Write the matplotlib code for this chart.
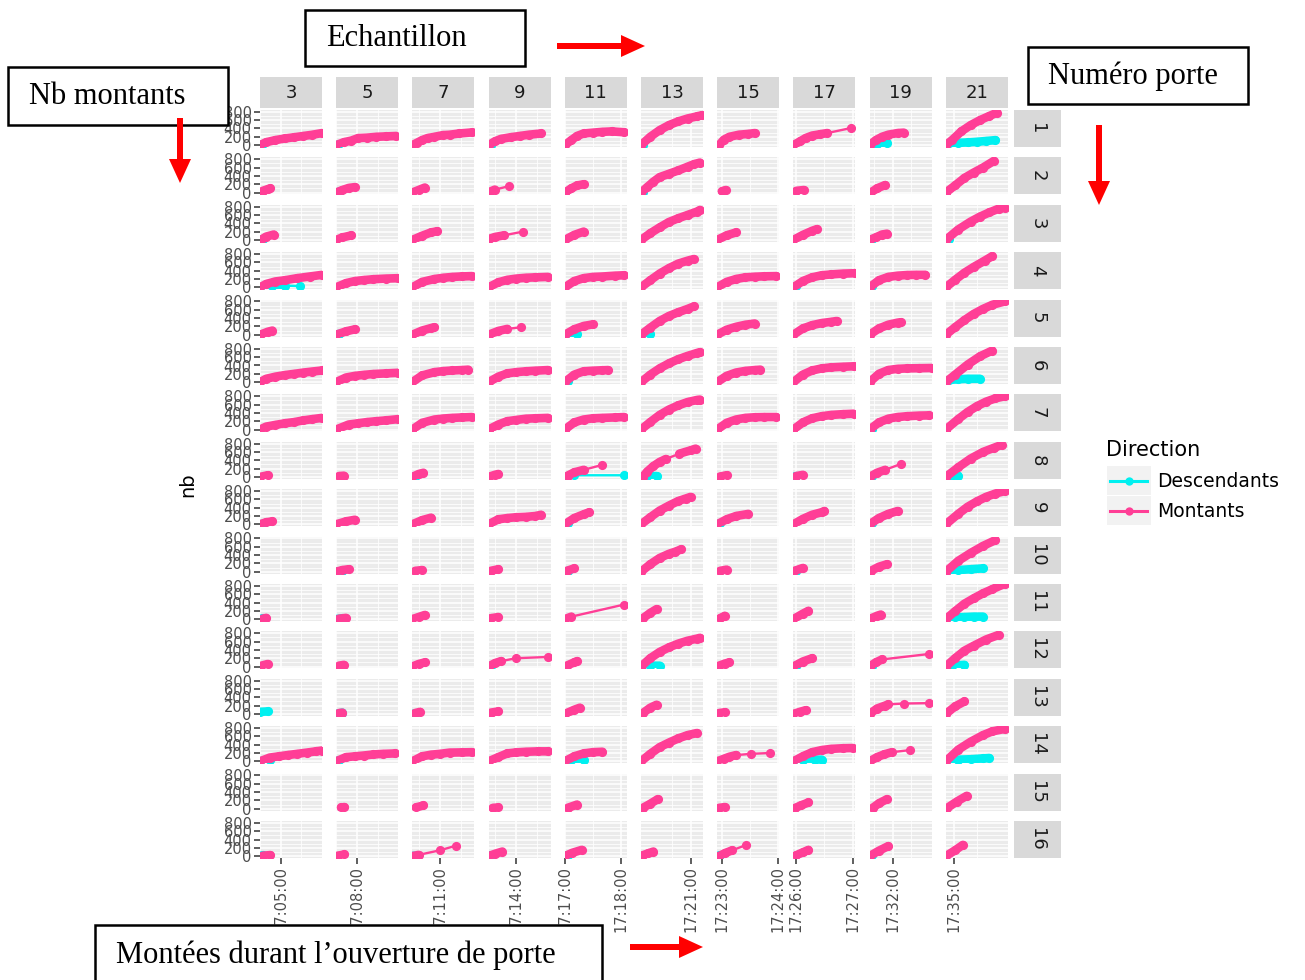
import matplotlib
matplotlib.use("Agg")
import matplotlib.pyplot as plt
from matplotlib.patches import Rectangle, FancyArrow
from matplotlib.lines import Line2D

# ---------------- data ----------------
ECHANTILLONS = [3, 5, 7, 9, 11, 13, 15, 17, 19, 21]
PORTES = list(range(1, 17))
SERIES = ["Descendants", "Montants"]
SERIES_COLORS = ["#00F0F0", "#FF3E96"]

# time window of each sample (column): start time, length in seconds, labelled breaks
COL_START = ["17:04:30", "17:07:30", "17:10:20", "17:13:20", "17:17:00",
             "17:19:40", "17:22:55", "17:25:57", "17:31:23", "17:34:50"]
COL_SPAN = [90, 90, 90, 90, 66, 100, 66, 66, 100, 80]
COL_TICKS = [["17:05:00"], ["17:08:00"], ["17:11:00"], ["17:14:00"],
             ["17:17:00", "17:18:00"], ["17:21:00"], ["17:23:00", "17:24:00"],
             ["17:26:00", "17:27:00"], ["17:32:00"], ["17:35:00"]]
Y_TICKS = [0, 200, 400, 600, 800]

# (seconds since column start, cumulative count) per door 1..16
MONT_03 = [
    [(0, 0), (9, 70), (22, 120), (36, 160), (50, 190), (63, 220), (76, 250), (90, 290)],
    [(0, 0), (4, 40), (11, 80), (15, 100)],
    [(2, 10), (9, 80), (20, 130)],
    [(0, 0), (9, 80), (22, 140), (36, 170), (54, 220), (72, 260), (90, 300)],
    [(2, 10), (11, 70), (18, 100)],
    [(0, 0), (9, 80), (22, 130), (36, 170), (50, 200), (63, 230), (76, 255), (90, 280)],
    [(0, 0), (9, 70), (22, 110), (36, 150), (50, 180), (63, 220), (76, 250), (90, 280)],
    [(0, 0), (11, 40)],
    [(0, 0), (9, 50), (18, 70)],
    [],
    [(4, 10), (9, 30)],
    [(2, 20), (11, 60)],
    [],
    [(0, 0), (14, 90), (27, 120), (40, 150), (54, 180), (68, 210), (81, 240), (90, 260)],
    [],
    [(4, 10), (15, 25)],
]
DESC_03 = [[(0, 0), (3, 10)], [], [(0, 0), (4, 20)], [(0, 0), (18, 30), (36, 40), (58, 30)],
           [], [], [], [], [(0, 0), (4, 10)], [], [(0, 0), (4, 20)], [],
           [(0, 50), (11, 60)], [(0, 0), (14, 40)], [], [(0, 0), (4, 20)]]

MONT_05 = [
    [(0, 0), (11, 70), (22, 110), (32, 170), (45, 180), (58, 200), (72, 210), (87, 220)],
    [(0, 0), (9, 60), (18, 110), (27, 130)],
    [(0, 0), (9, 60), (22, 110)],
    [(0, 0), (14, 100), (27, 150), (40, 175), (54, 195), (72, 210), (90, 220)],
    [(0, 0), (14, 80), (27, 130)],
    [(0, 0), (14, 110), (27, 150), (40, 175), (54, 195), (72, 210), (90, 225)],
    [(0, 0), (18, 120), (32, 150), (45, 180), (58, 200), (72, 220), (90, 250)],
    [(4, 20), (11, 30)],
    [(0, 0), (14, 70), (27, 110)],
    [(0, 0), (9, 40), (18, 60)],
    [(4, 10), (14, 30)],
    [(4, 20), (11, 40)],
    [(4, 20), (9, 30)],
    [(0, 0), (14, 100), (27, 120), (40, 140), (54, 165), (68, 180), (86, 190)],
    [(7, 30), (12, 40)],
    [(2, 10), (12, 40)],
]
DESC_05 = [[(0, 0), (3, 10)], [(0, 0), (4, 20)], [], [], [(0, 0), (4, 20)], [], [], [], [],
           [(0, 0), (9, 20)], [(0, 0), (9, 20)], [], [(0, 0), (9, 30)], [(0, 0), (4, 20)], [], []]

MONT_07 = [
    [(0, 0), (7, 60), (14, 120), (22, 170), (32, 200), (44, 240), (54, 250), (68, 280), (86, 305)],
    [(0, 0), (9, 60), (18, 120)],
    [(0, 0), (14, 100), (27, 180), (36, 210)],
    [(0, 0), (14, 130), (32, 200), (45, 230), (58, 250), (72, 262), (86, 270)],
    [(0, 0), (14, 100), (27, 160), (32, 180)],
    [(0, 0), (14, 160), (32, 240), (45, 265), (58, 280), (72, 290), (81, 300)],
    [(0, 0), (14, 160), (32, 240), (45, 265), (58, 280), (72, 290), (86, 300)],
    [(0, 0), (9, 70), (16, 100)],
    [(0, 0), (14, 100), (27, 160)],
    [(4, 20), (14, 40)],
    [(0, 0), (9, 50), (18, 100)],
    [(0, 0), (9, 60), (18, 100)],
    [(4, 20), (11, 50)],
    [(0, 0), (14, 120), (27, 160), (40, 180), (54, 210), (72, 215), (86, 220)],
    [(5, 30), (16, 80)],
    [(0, 0), (9, 30), (40, 140), (63, 250)],
]
DESC_07 = [[], [], [], [], [], [], [], [(0, 0), (4, 10)], [], [], [], [],
           [(0, 0), (4, 10)], [], [], [(0, 0), (3, 10)]]

MONT_09 = [
    [(0, 0), (9, 90), (18, 150), (32, 190), (45, 220), (58, 250), (76, 280)],
    [(2, 20), (9, 70), (29, 150)],
    [(0, 20), (9, 70), (22, 110), (50, 200)],
    [(0, 0), (14, 120), (27, 180), (40, 210), (54, 230), (68, 240), (86, 250)],
    [(0, 0), (14, 90), (27, 140), (47, 180)],
    [(0, 0), (14, 130), (27, 210), (40, 240), (54, 260), (68, 275), (86, 290)],
    [(0, 0), (14, 120), (27, 200), (40, 230), (54, 260), (68, 270), (86, 280)],
    [(0, 0), (9, 50), (14, 70)],
    [(0, 0), (14, 120), (27, 150), (40, 170), (54, 180), (68, 200), (76, 230)],
    [(3, 20), (14, 60)],
    [(3, 20), (14, 50)],
    [(0, 0), (9, 80), (18, 130), (40, 200), (86, 230)],
    [(3, 30), (14, 60)],
    [(0, 0), (14, 100), (27, 190), (40, 215), (54, 230), (72, 240), (86, 240)],
    [(6, 20), (14, 30)],
    [(0, 0), (10, 60), (20, 110)],
]
DESC_09 = [[(0, 0), (3, 10)], [], [], [], [], [], [], [], [], [], [],
           [(0, 0), (4, 20)], [], [], [], [(0, 0), (4, 20)]]

MONT_11 = [
    [(0, 0), (7, 120), (13, 220), (20, 280), (30, 300), (40, 320), (50, 330), (63, 310)],
    [(0, 0), (7, 100), (13, 170), (20, 200)],
    [(0, 0), (10, 120), (20, 200)],
    [(0, 0), (10, 150), (20, 220), (30, 250), (40, 260), (53, 280), (63, 290)],
    [(0, 0), (10, 130), (20, 210), (30, 250)],
    [(0, 0), (10, 180), (20, 260), (30, 275), (40, 285), (46, 290)],
    [(0, 0), (10, 170), (20, 240), (30, 270), (40, 280), (53, 290), (63, 300)],
    [(3, 30), (10, 110), (20, 170), (40, 290)],
    [(0, 0), (10, 150), (20, 240), (26, 290)],
    [(2, 20), (10, 80)],
    [(0, 0), (7, 60), (63, 350)],
    [(2, 20), (10, 100), (13, 130)],
    [(0, 0), (10, 100), (16, 150)],
    [(0, 0), (10, 120), (20, 190), (30, 220), (40, 230)],
    [(3, 20), (13, 100)],
    [(0, 0), (8, 80), (18, 150)],
]
DESC_11 = [[], [], [], [], [(0, 0), (13, 20)], [(0, 0), (3, 20)], [],
           [(0, 0), (10, 40), (63, 40)], [(0, 0), (3, 20)], [(0, 0), (3, 20)], [], [], [],
           [(0, 0), (7, 30), (20, 30)], [], [(0, 0), (3, 20)]]

MONT_13 = [
    [(0, 0), (15, 200), (30, 360), (45, 480), (60, 570), (75, 640), (90, 690), (98, 720)],
    [(0, 0), (10, 130), (20, 260), (30, 370), (45, 450), (60, 530), (75, 620), (85, 680), (95, 720)],
    [(0, 0), (15, 160), (30, 300), (45, 430), (60, 520), (75, 600), (90, 680), (95, 720)],
    [(0, 0), (15, 170), (30, 330), (45, 460), (60, 570), (75, 640), (85, 680)],
    [(0, 0), (15, 170), (30, 330), (45, 450), (60, 540), (75, 620), (85, 680)],
    [(0, 0), (15, 180), (30, 330), (45, 450), (60, 550), (75, 630), (90, 700), (95, 720)],
    [(0, 0), (15, 180), (30, 350), (45, 480), (60, 580), (75, 660), (90, 710), (95, 720)],
    [(3, 0), (10, 130), (20, 260), (30, 360), (40, 430), (62, 560), (80, 640), (88, 680)],
    [(0, 0), (15, 170), (30, 330), (45, 450), (60, 560), (72, 620), (80, 660)],
    [(0, 0), (15, 180), (30, 330), (45, 430), (55, 480), (65, 540)],
    [(3, 20), (15, 150), (25, 240)],
    [(0, 0), (15, 200), (30, 350), (45, 460), (60, 550), (75, 620), (90, 670), (95, 690)],
    [(3, 20), (15, 150), (25, 220)],
    [(0, 0), (15, 180), (30, 340), (45, 450), (60, 550), (75, 630), (90, 680)],
    [(3, 20), (15, 120), (27, 230)],
    [(3, 20), (12, 70), (20, 110)],
]
DESC_13 = [[(0, 0), (3, 10)], [(0, 0), (3, 10)], [], [], [(0, 0), (15, 20)], [], [],
           [(0, 0), (10, 20), (25, 20)], [], [], [], [(0, 0), (15, 20), (30, 20)],
           [], [], [], []]

MONT_15 = [
    [(2, 0), (7, 130), (13, 200), (23, 250), (33, 270), (40, 290)],
    [(5, 30), (9, 60)],
    [(0, 0), (10, 110), (20, 180)],
    [(0, 0), (10, 130), (20, 200), (30, 240), (40, 255), (50, 265), (63, 270)],
    [(0, 0), (10, 120), (20, 190), (30, 240), (40, 270)],
    [(0, 0), (10, 150), (20, 230), (30, 270), (40, 290), (46, 300)],
    [(0, 0), (10, 160), (20, 240), (30, 280), (40, 295), (50, 300), (63, 300)],
    [(3, 10), (10, 40)],
    [(0, 0), (10, 120), (20, 200), (33, 250)],
    [(3, 20), (10, 50)],
    [(3, 20), (8, 80)],
    [(2, 20), (8, 70), (13, 100)],
    [(2, 20), (8, 40)],
    [(0, 0), (7, 60), (13, 110), (20, 150), (36, 180), (56, 200)],
    [(2, 20), (8, 40)],
    [(2, 0), (8, 70), (16, 140), (31, 270)],
]
DESC_15 = [[], [], [], [], [], [], [], [], [(0, 0), (3, 20)], [], [], [], [], [], [],
           [(0, 0), (3, 20)]]

MONT_17 = [
    [(0, 0), (7, 90), (13, 170), (20, 230), (28, 260), (36, 290), (61, 410)],
    [(3, 40), (11, 60)],
    [(0, 0), (10, 120), (20, 220), (25, 260)],
    [(0, 0), (10, 150), (20, 240), (30, 290), (40, 310), (53, 330), (66, 340)],
    [(0, 0), (10, 150), (20, 230), (30, 280), (40, 310), (46, 330)],
    [(0, 0), (10, 180), (20, 280), (30, 330), (40, 355), (53, 370), (64, 380)],
    [(0, 0), (10, 170), (20, 270), (30, 320), (40, 350), (53, 370), (64, 380)],
    [(3, 20), (10, 50)],
    [(0, 0), (10, 130), (20, 230), (30, 290), (33, 320)],
    [(1, 20), (10, 90)],
    [(0, 0), (10, 130), (16, 200)],
    [(0, 0), (10, 120), (20, 200)],
    [(0, 0), (7, 50), (13, 90)],
    [(0, 0), (10, 120), (20, 220), (30, 270), (40, 300), (53, 315), (63, 320)],
    [(2, 20), (8, 80), (16, 150)],
    [(3, 20), (10, 90), (16, 150)],
]
DESC_17 = [[], [], [], [(0, 0), (3, 20)], [], [], [], [(0, 0), (3, 20)], [],
           [(0, 0), (3, 20)], [], [(0, 0), (3, 20)], [],
           [(0, 0), (10, 40), (23, 40), (30, 40)], [], []]

MONT_19 = [
    [(0, 0), (10, 120), (20, 200), (30, 250), (45, 290), (55, 300)],
    [(3, 10), (12, 100), (25, 180)],
    [(0, 0), (10, 60), (20, 130), (28, 150)],
    [(0, 0), (15, 170), (30, 250), (45, 280), (60, 295), (75, 300), (90, 300)],
    [(0, 0), (15, 150), (30, 240), (45, 290), (50, 300)],
    [(0, 0), (15, 200), (30, 290), (45, 320), (60, 330), (80, 335), (100, 340)],
    [(0, 0), (15, 170), (30, 260), (45, 300), (60, 320), (80, 335), (95, 340)],
    [(0, 0), (12, 100), (25, 170), (50, 310)],
    [(0, 0), (15, 150), (30, 250), (45, 320)],
    [(2, 20), (15, 120), (28, 180)],
    [(3, 20), (12, 80), (18, 110)],
    [(0, 0), (10, 100), (20, 170), (95, 300)],
    [(0, 0), (12, 130), (25, 200), (30, 230), (55, 250), (95, 260)],
    [(0, 0), (12, 100), (24, 170), (36, 220), (65, 270)],
    [(5, 20), (15, 130), (28, 230)],
    [(0, 0), (15, 130), (30, 240)],
]
DESC_19 = [[(0, 0), (12, 20), (28, 60)], [], [(0, 0), (4, 20)], [(0, 0), (4, 20)], [], [],
           [(0, 0), (4, 20)], [(0, 0), (4, 20)], [(0, 0), (4, 20)], [], [],
           [(0, 0), (4, 20)], [], [], [], [(0, 0), (4, 20)]]

MONT_21 = [
    [(0, 0), (8, 120), (20, 330), (32, 480), (44, 600), (56, 700), (66, 780)],
    [(0, 0), (12, 170), (24, 350), (36, 480), (48, 600), (62, 760)],
    [(0, 0), (16, 250), (32, 440), (44, 560), (56, 660), (68, 750), (76, 780)],
    [(0, 0), (12, 180), (24, 350), (36, 490), (50, 640), (60, 750)],
    [(0, 0), (12, 180), (24, 350), (36, 500), (48, 620), (60, 720), (76, 800)],
    [(0, 0), (12, 180), (28, 420), (44, 620), (60, 760)],
    [(0, 0), (16, 250), (28, 420), (40, 560), (52, 670), (64, 750), (76, 800)],
    [(0, 0), (16, 230), (32, 440), (48, 600), (62, 700), (72, 770)],
    [(0, 0), (16, 250), (28, 420), (40, 550), (52, 660), (64, 740), (76, 800)],
    [(0, 0), (16, 260), (32, 450), (48, 620), (64, 760)],
    [(0, 0), (12, 190), (24, 370), (36, 500), (48, 620), (60, 720), (76, 850)],
    [(0, 0), (12, 200), (24, 380), (36, 500), (52, 650), (68, 760)],
    [(0, 0), (12, 180), (24, 300)],
    [(0, 0), (16, 280), (32, 470), (48, 630), (60, 720), (76, 780)],
    [(2, 20), (14, 170), (27, 310)],
    [(0, 0), (12, 140), (22, 270)],
]
DESC_21 = [[(0, 0), (4, 40), (16, 55), (28, 65), (40, 80), (52, 100), (64, 120)], [],
           [(0, 0), (4, 20)], [], [], [(0, 0), (4, 50), (16, 70), (28, 80), (44, 80)], [],
           [(0, 0), (8, 20), (16, 30)], [], [(0, 0), (16, 40), (32, 60), (48, 80)],
           [(0, 0), (12, 40), (24, 50), (36, 60), (48, 60)], [(0, 0), (8, 20), (24, 40)],
           [], [(0, 0), (16, 40), (32, 50), (48, 70), (56, 80)], [], []]

MONTANTS = [MONT_03, MONT_05, MONT_07, MONT_09, MONT_11, MONT_13, MONT_15, MONT_17, MONT_19, MONT_21]
DESCENDANTS = [DESC_03, DESC_05, DESC_07, DESC_09, DESC_11, DESC_13, DESC_15, DESC_17, DESC_19, DESC_21]

# ---------------- figure ----------------
W, H = 1305, 980
fig = plt.figure(figsize=(W / 100, H / 100), dpi=100)
plt.rcParams['font.family'] = ['DejaVu Sans']


def box(x, y, w, h):
    return [x / W, 1 - (y + h) / H, w / W, h / H]


def hms(s):
    h, m, sec = map(int, s.split(":"))
    return h * 3600 + m * 60 + sec


PANEL_BG = "#EBEBEB"
STRIP_BG = "#D9D9D9"
TICK_COL = "#4D4D4D"
LEFT0, PITCH_X, PW = 260, 76.2, 62
TOP0, PITCH_Y, PH = 110, 47.4, 37
YLIM = (-45, 845)


def draw_series(ax, pts, color, thr, z):
    if not pts:
        return
    xs = [p[0] for p in pts]
    ys = [p[1] for p in pts]
    ax.plot(xs, ys, color=color, lw=1.7, zorder=z, solid_capstyle="round")
    # dense runs (closely spaced observations) appear as a thick band
    run = [0]
    for i in range(1, len(xs)):
        if xs[i] - xs[i - 1] <= thr:
            run.append(i)
        else:
            if len(run) > 1:
                ax.plot([xs[j] for j in run], [ys[j] for j in run], color=color, lw=6.2,
                        solid_capstyle="round", solid_joinstyle="round", zorder=z)
            run = [i]
    if len(run) > 1:
        ax.plot([xs[j] for j in run], [ys[j] for j in run], color=color, lw=6.2,
                solid_capstyle="round", solid_joinstyle="round", zorder=z)
    ax.plot(xs, ys, "o", color=color, ms=6.6, mew=0, zorder=z + 0.5)


for c, ech in enumerate(ECHANTILLONS):
    left = LEFT0 + PITCH_X * c
    span = COL_SPAN[c]
    t0 = hms(COL_START[c])
    majors = [hms(t) - t0 for t in COL_TICKS[c]]
    minors = sorted({m + d for m in majors for d in (-30, 30) if 0 <= m + d <= span})
    thr = 0.2 * span
    # top strip
    sax = fig.add_axes(box(left, 77, PW, 31))
    sax.set_facecolor(STRIP_BG)
    sax.set_xticks([]); sax.set_yticks([])
    for s in sax.spines.values():
        s.set_visible(False)
    sax.text(0.5, 0.5, str(ech), ha="center", va="center", fontsize=13, color="#1A1A1A",
             transform=sax.transAxes)
    for r, porte in enumerate(PORTES):
        top = TOP0 + PITCH_Y * r
        ax = fig.add_axes(box(left, top, PW, PH))
        ax.set_facecolor(PANEL_BG)
        for s in ax.spines.values():
            s.set_visible(False)
        ax.set_xlim(0, span)
        ax.set_ylim(*YLIM)
        ax.set_yticks(Y_TICKS)
        ax.set_yticks([100, 300, 500, 700], minor=True)
        ax.set_xticks(majors)
        ax.set_xticks(minors, minor=True)
        ax.grid(which="major", color="white", lw=1.1, zorder=0)
        ax.grid(which="minor", color="white", lw=0.55, zorder=0)
        ax.set_axisbelow(True)
        ax.tick_params(which="minor", length=0)
        ax.tick_params(which="major", length=4, width=1.1, color="#333333",
                       labelsize=10.5, labelcolor=TICK_COL, pad=2)
        if c == 0:
            ax.set_yticklabels([str(v) for v in Y_TICKS])
        else:
            ax.tick_params(axis="y", which="major", length=0, labelleft=False)
        if r == len(PORTES) - 1:
            ax.set_xticklabels(COL_TICKS[c], rotation=90)
        else:
            ax.tick_params(axis="x", which="major", length=0, labelbottom=False)
        draw_series(ax, DESCENDANTS[c][r], SERIES_COLORS[0], thr, 3)
        draw_series(ax, MONTANTS[c][r], SERIES_COLORS[1], thr, 5)
        if c == len(ECHANTILLONS) - 1:
            rax = fig.add_axes(box(1014, top, 47, PH))
            rax.set_facecolor(STRIP_BG)
            rax.set_xticks([]); rax.set_yticks([])
            for s in rax.spines.values():
                s.set_visible(False)
            rax.text(0.5, 0.5, str(porte), ha="center", va="center", rotation=-90,
                     fontsize=13, color="#1A1A1A", transform=rax.transAxes)

# y-axis title
fig.text(188 / W, 1 - 485 / H, "nb", rotation=90, ha="center", va="center",
         fontsize=14, color="black")

# overlay for legend and annotations
ov = fig.add_axes([0, 0, 1, 1])
ov.set_xlim(0, W)
ov.set_ylim(H, 0)
ov.axis("off")
ov.set_zorder(20)

# legend
ov.text(1106, 450, "Direction", fontsize=15, color="black", ha="left", va="center")
for i, (name, col) in enumerate(zip(SERIES, SERIES_COLORS)):
    ky = 466 + 30 * i
    ov.add_patch(Rectangle((1107, ky), 44, 29, fc="#F2F2F2", ec="none"))
    ov.add_line(Line2D([1110, 1147], [ky + 15, ky + 15], color=col, lw=2.2))
    ov.plot([1128.5], [ky + 15], "o", color=col, ms=6, mew=0)
    ov.text(1157, ky + 15, name, fontsize=13.5, color="black", ha="left", va="center")

# annotation boxes
SERIF = ["Liberation Serif", "DejaVu Serif"]
ANNOTS = [
    ("Echantillon", (305, 10, 220, 56), (326, 39)),
    ("Nb montants", (8, 67, 220, 58), (29, 96)),
    ("Numéro porte", (1028, 47, 220, 57), (1048, 76)),
    ("Montées durant l’ouverture de porte", (95, 925, 507, 80), (116, 955)),
]
for txt, (bx, by, bw, bh), (tx, ty) in ANNOTS:
    ov.add_patch(Rectangle((bx, by), bw, bh, fc="white", ec="black", lw=1.8, zorder=2))
    ov.text(tx, ty, txt, family=SERIF, fontsize=22, color="black", ha="left",
            va="center", zorder=3)

# red arrows
ARROWS = [((557, 46), (88, 0)), ((180, 118), (0, 65)),
          ((1099, 125), (0, 80)), ((630, 947), (73, 0))]
for (x0, y0), (dx, dy) in ARROWS:
    ov.add_patch(FancyArrow(x0, y0, dx, dy, width=6, head_width=22, head_length=24,
                            length_includes_head=True, color="#FF0000", lw=0, zorder=4))

fig.savefig("out.png", dpi=100)
